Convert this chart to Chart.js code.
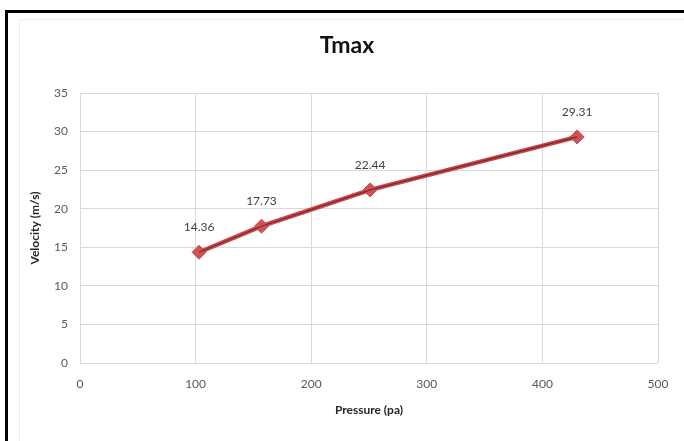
<!DOCTYPE html>
<html>
<head>
<meta charset="utf-8">
<script src="https://cdn.jsdelivr.net/npm/chart.js@4/dist/chart.umd.min.js"></script>
<style>
  html, body { margin: 0; padding: 0; background: #fff; }
  #wrap { position: absolute; left: 0; top: 0; width: 684px; height: 441px; }
</style>
</head>
<body>
<div id="wrap"><canvas id="c" width="684" height="441"></canvas></div>
<script>
const pressure = [103, 157, 251, 430];
const velocity = [14.36, 17.73, 22.44, 29.31];
const velocityLabels = ['14.36', '17.73', '22.44', '29.31'];
const chartTitle = 'Tmax';
const xTitle = 'Pressure (pa)';
const yTitle = 'Velocity (m/s)';

const points = pressure.map((p, i) => ({ x: p, y: velocity[i] }));

const frame = {
  id: 'frame',
  beforeDraw(chart) {
    const ctx = chart.ctx;
    ctx.save();
    ctx.fillStyle = '#ffffff';
    ctx.fillRect(0, 0, chart.width, chart.height);
    ctx.strokeStyle = '#ececec';
    ctx.lineWidth = 1;
    ctx.beginPath();
    ctx.moveTo(19.5, 441); ctx.lineTo(19.5, 19.5); ctx.lineTo(684, 19.5);
    ctx.stroke();
    ctx.strokeStyle = '#000000';
    ctx.lineWidth = 3;
    ctx.beginPath();
    ctx.moveTo(6.5, 441); ctx.lineTo(6.5, 11.5); ctx.lineTo(684, 11.5);
    ctx.stroke();
    ctx.fillStyle = '#111111';
    ctx.font = 'bold 23px Lato, "Liberation Sans", sans-serif';
    ctx.textAlign = 'center';
    ctx.textBaseline = 'middle';
    ctx.fillText(chartTitle, 347, 46);
    ctx.restore();
  }
};

const valueLabels = {
  id: 'valueLabels',
  afterDatasetsDraw(chart) {
    const meta = chart.getDatasetMeta(0);
    const ctx = chart.ctx;
    ctx.save();
    ctx.font = '12px Lato, "Liberation Sans", sans-serif';
    ctx.fillStyle = '#404040';
    ctx.textAlign = 'center';
    ctx.textBaseline = 'middle';
    meta.data.forEach((pt, i) => {
      ctx.fillText(velocityLabels[i], pt.x, pt.y - 25);
    });
    ctx.restore();
  }
};

new Chart(document.getElementById('c'), {
  type: 'scatter',
  data: {
    datasets: [
      {
        data: points,
        showLine: true,
        borderColor: '#c9474b',
        borderWidth: 4.5,
        pointStyle: 'rectRot',
        pointRadius: 7,
        pointBackgroundColor: '#cf5256',
        pointBorderColor: '#c4474b',
        pointBorderWidth: 1,
        fill: false,
        order: 2
      },
      {
        data: points,
        showLine: true,
        borderColor: '#7a282c',
        borderWidth: 1.1,
        pointRadius: 0,
        pointHoverRadius: 0,
        fill: false,
        order: 1
      }
    ]
  },
  plugins: [frame, valueLabels],
  options: {
    responsive: false,
    animation: false,
    events: [],
    layout: { padding: { left: 0, right: 26, top: 93, bottom: 0 } },
    plugins: {
      legend: { display: false },
      tooltip: { enabled: false },
      title: { display: false }
    },
    scales: {
      x: {
        type: 'linear',
        min: 0,
        max: 500,
        ticks: {
          stepSize: 100,
          color: '#595959',
          font: { family: 'Lato, "Liberation Sans", sans-serif', size: 12 },
          padding: 14
        },
        grid: { color: '#d9d9d9', lineWidth: 1, drawTicks: false },
        border: { display: false },
        title: {
          display: true,
          text: xTitle,
          color: '#262626',
          font: { family: 'Lato, "Liberation Sans", sans-serif', size: 12, weight: 'bold' },
          padding: { top: 0, bottom: 24 }
        },
        afterFit(scale) { scale.height = 78; }
      },
      y: {
        type: 'linear',
        min: 0,
        max: 35,
        ticks: {
          stepSize: 5,
          color: '#595959',
          font: { family: 'Lato, "Liberation Sans", sans-serif', size: 12 },
          padding: 12
        },
        grid: { color: '#d9d9d9', lineWidth: 1, drawTicks: false },
        border: { display: false },
        title: {
          display: true,
          text: yTitle,
          color: '#262626',
          font: { family: 'Lato, "Liberation Sans", sans-serif', size: 12, weight: 'bold' },
          padding: { top: 28, bottom: 0 }
        },
        afterFit(scale) { scale.width = 80; }
      }
    }
  }
});
</script>
</body>
</html>
